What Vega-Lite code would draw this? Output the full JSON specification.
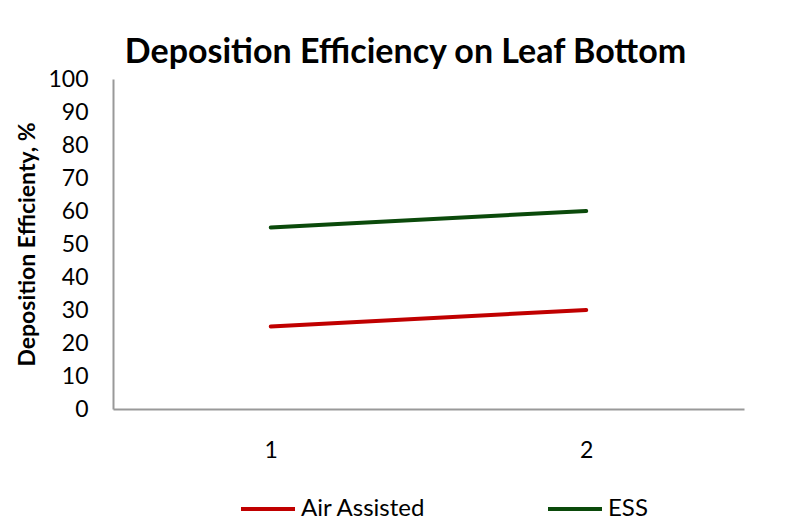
{
  "$schema": "https://vega.github.io/schema/vega-lite/v6.json",
  "width": 631,
  "height": 330,
  "autosize": {"type": "none"},
  "padding": {"left": 113, "top": 79, "right": 45, "bottom": 122},
  "background": "white",
  "title": {
    "text": "Deposition Efficiency on Leaf Bottom",
    "font": "Lato",
    "fontSize": 34,
    "fontWeight": "bold",
    "color": "black",
    "anchor": "middle",
    "dx": -23,
    "offset": -2
  },
  "data": {
    "values": [
      {"x": "1", "series": "Air Assisted", "y": 25},
      {"x": "2", "series": "Air Assisted", "y": 30},
      {"x": "1", "series": "ESS", "y": 55},
      {"x": "2", "series": "ESS", "y": 60}
    ]
  },
  "mark": {"type": "line", "strokeWidth": 4, "strokeCap": "round"},
  "encoding": {
    "x": {
      "field": "x",
      "type": "ordinal",
      "scale": {"type": "point", "padding": 0.5},
      "axis": {
        "title": null,
        "labelAngle": 0,
        "ticks": false,
        "labelPadding": 30,
        "labelFontSize": 23,
        "labelFont": "Lato",
        "labelColor": "black",
        "domainColor": "#999999",
        "domainWidth": 2,
        "grid": false
      }
    },
    "y": {
      "field": "y",
      "type": "quantitative",
      "scale": {"domain": [0, 100]},
      "axis": {
        "title": "Deposition Efficienty, %",
        "titleFont": "Lato",
        "titleFontSize": 23,
        "titleFontWeight": "bold",
        "titleColor": "black",
        "titlePadding": 8,
        "values": [0, 10, 20, 30, 40, 50, 60, 70, 80, 90, 100],
        "ticks": false,
        "labelPadding": 25,
        "labelFontSize": 23,
        "labelFont": "Lato",
        "labelColor": "black",
        "domainColor": "#999999",
        "domainWidth": 2,
        "grid": false
      }
    },
    "color": {
      "field": "series",
      "type": "nominal",
      "scale": {"domain": ["Air Assisted", "ESS"], "range": ["#C00000", "#0B4A0B"]},
      "legend": {
        "title": null,
        "orient": "none",
        "direction": "horizontal",
        "legendX": 126,
        "legendY": 401,
        "symbolType": "stroke",
        "symbolSize": 2916,
        "symbolStrokeWidth": 4,
        "labelFont": "Lato",
        "labelFontSize": 24,
        "labelColor": "black",
        "labelOffset": 4,
        "columnPadding": 114,
        "padding": 0
      }
    }
  },
  "config": {"view": {"stroke": null}}
}
